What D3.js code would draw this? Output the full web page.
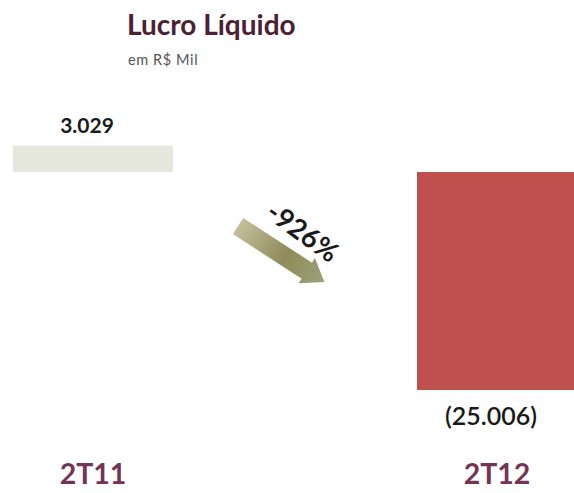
<!DOCTYPE html>
<html>
<head>
<meta charset="utf-8">
<script src="https://cdn.jsdelivr.net/npm/d3@7"></script>
<style>
  html, body { margin: 0; padding: 0; background: #fff; }
  svg { display: block; }
</style>
</head>
<body>
<svg id="chart" width="574" height="493"></svg>
<script>
const categories = ["2T11", "2T12"];
const values = [3029, -25006];
const valueLabels = ["3.029", "(25.006)"];
const title = "Lucro Líquido";
const subtitle = "em R$ Mil";
const changeLabel = "-926%";

const svg = d3.select("#chart");
const font = "Lato, 'Open Sans', sans-serif";

const x = d3.scaleBand().domain(categories).range([13, 577]).paddingInner(0.604).paddingOuter(0);
const y = d3.scaleLinear().domain([-27000, 5000]).range([407.4, 128.4]);

const colors = ["#e6e7dc", "#c0504d"];

// Title
svg.append("text").attr("x", 127).attr("y", 35)
  .attr("font-family", font).attr("font-weight", 700).attr("font-size", 28)
  .attr("fill", "#4c2134").text(title);
svg.append("text").attr("x", 128).attr("y", 65)
  .attr("font-family", font).attr("font-size", 14.5).attr("letter-spacing", 0.6)
  .attr("fill", "#555").text(subtitle);

// Bars
svg.selectAll("rect.bar").data(values).join("rect").attr("class", "bar")
  .attr("x", (d, i) => x(categories[i]))
  .attr("width", x.bandwidth())
  .attr("y", d => y(Math.max(0, d)))
  .attr("height", d => Math.abs(y(d) - y(0)))
  .attr("fill", (d, i) => colors[i]);

// Value labels
svg.selectAll("text.val").data(values).join("text").attr("class", "val")
  .attr("x", (d, i) => x(categories[i]) + x.bandwidth() / 2 - 6)
  .attr("y", d => d >= 0 ? y(d) - 12.5 : y(d) + 35)
  .attr("text-anchor", "middle")
  .attr("font-family", font)
  .attr("font-weight", (d) => d >= 0 ? 700 : 600)
  .attr("font-size", (d) => d >= 0 ? 21 : 25)
  .attr("fill", "#1a1a1a")
  .text((d, i) => valueLabels[i]);

// Category labels
svg.selectAll("text.cat").data(categories).join("text").attr("class", "cat")
  .attr("x", d => x(d) + x.bandwidth() / 2)
  .attr("y", 484)
  .attr("text-anchor", "middle")
  .attr("font-family", font).attr("font-weight", 700).attr("font-size", 28.5)
  .attr("fill", "#733458")
  .text(d => d);

// Arrow
const defs = svg.append("defs");
const grad = defs.append("linearGradient").attr("id", "ag").attr("x1", "0").attr("y1", "0").attr("x2", "1").attr("y2", "0");
grad.append("stop").attr("offset", "0%").attr("stop-color", "#c4bf9c");
grad.append("stop").attr("offset", "55%").attr("stop-color", "#8f8a58");
grad.append("stop").attr("offset", "100%").attr("stop-color", "#9ca27c");

const arrowLen = 103, shaftW = 19, headW = 30, headL = 21;
const arrow = svg.append("g").attr("transform", "translate(238,226) rotate(33)");
arrow.append("path")
  .attr("d", `M0,${-shaftW/2} L${arrowLen-headL},${-shaftW/2} L${arrowLen-headL},${-headW/2} L${arrowLen},0 L${arrowLen-headL},${headW/2} L${arrowLen-headL},${shaftW/2} L0,${shaftW/2} Z`)
  .attr("fill", "url(#ag)");

svg.append("text")
  .attr("transform", "translate(297,240) rotate(36)")
  .attr("text-anchor", "middle")
  .attr("font-family", font).attr("font-weight", 700).attr("font-size", 27.5)
  .attr("fill", "#1a1a1a")
  .text(changeLabel);
</script>
</body>
</html>
